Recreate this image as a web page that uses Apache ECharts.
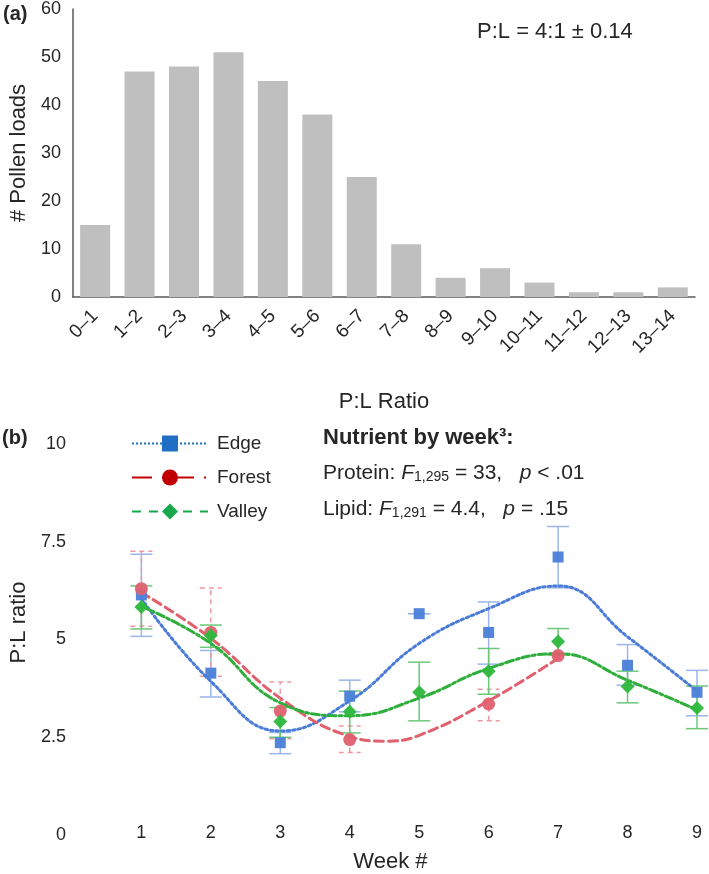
<!DOCTYPE html>
<html><head><meta charset="utf-8">
<script src="https://cdn.jsdelivr.net/npm/echarts@6/dist/echarts.min.js"></script>
<style>html,body{margin:0;padding:0;background:#fff}#c{width:709px;height:874px}</style>
</head><body><div id="c"></div>
<script>
// ---- Panel (a) data ----
const ratioBins = ['0–1','1–2','2–3','3–4','4–5','5–6','6–7','7–8','8–9','9–10','10–11','11–12','12–13','13–14'];
const pollenLoads = [15, 47, 48, 51, 45, 38, 25, 11, 4, 6, 3, 1, 1, 2];
const countAxisMax = 60, countAxisStep = 10;

// ---- Panel (b) data ----
const weeks = [1, 2, 3, 4, 5, 6, 7, 8, 9];
const edgeMean  = [6.14, 4.14, 2.36, 3.55, 5.66, 5.18, 7.11, 4.34, 3.65];
const edgeLow   = [5.08, 3.53, 2.08, 3.15, 5.66, 4.37, 6.32, 3.83, 3.05];
const edgeHigh  = [7.18, 4.72, 2.62, 3.96, 5.66, 5.96, 7.89, 4.87, 4.21];

const forestMean  = [6.30, 5.18, 3.17, 2.44, null, 3.35, 4.59, null, null];
const forestLow   = [5.34, 4.06, 2.46, 2.11, null, 2.92, null, null, null];
const forestHigh  = [7.26, 6.32, 3.91, 2.79, null, 3.73, null, null, null];

const valleyMean  = [5.83, 5.10, 2.90, 3.15, 3.65, 4.19, 4.95, 3.80, 3.25];
const valleyLow   = [5.27, 4.80, 2.50, 2.61, 2.92, 3.60, 4.60, 3.38, 2.72];
const valleyHigh  = [6.37, 5.37, 3.26, 3.68, 4.42, 4.77, 5.28, 4.19, 3.81];

// fitted trend curves at these weeks
const edgeTrendWeeks  = [1, 2, 3, 4, 5, 6, 7, 8, 9];
const edgeTrend       = [6.05, 3.93, 2.66, 3.43, 4.90, 5.79, 6.37, 5.07, 3.68];
const forestTrendWeeks = [1, 2, 3, 4, 4.5, 5, 6, 7];
const forestTrend      = [6.20, 5.03, 3.50, 2.52, 2.40, 2.55, 3.43, 4.52];
const valleyTrendWeeks = [1, 2, 3, 4, 5, 6, 7, 8, 9];
const valleyTrend      = [5.85, 4.90, 3.38, 3.05, 3.50, 4.26, 4.64, 3.96, 3.20];

const weekAxisMin = 0, weekAxisMax = 9, weekAxisStep = 1;
const ratioAxisMin = 0, ratioAxisMax = 10, ratioAxisStep = 2.5;

const FONT = '"Liberation Sans", Arial, sans-serif';
const TXT = '#262626';

function pairs(vals) {
  return weeks.map((w, i) => vals[i] == null ? null : [w, vals[i]]).filter(Boolean);
}
function errData(lo, hi) {
  return weeks.map((w, i) => lo[i] == null ? null : [w, lo[i], hi[i]]).filter(Boolean);
}
function errSeries(name, lo, hi, color, dash) {
  return {
    type: 'custom', name, xAxisIndex: 1, yAxisIndex: 1, z: 1, silent: true,
    encode: { x: 0, y: [1, 2] },
    data: errData(lo, hi),
    renderItem(params, api) {
      const x = api.value(0);
      const a = api.coord([x, api.value(1)]);
      const b = api.coord([x, api.value(2)]);
      const hw = 11;
      const style = { stroke: color, lineWidth: 1.5, lineDash: dash || null, fill: null };
      return { type: 'group', children: [
        { type: 'line', shape: { x1: a[0], y1: a[1], x2: b[0], y2: b[1] }, style },
        { type: 'line', shape: { x1: a[0] - hw, y1: a[1], x2: a[0] + hw, y2: a[1] }, style },
        { type: 'line', shape: { x1: b[0] - hw, y1: b[1], x2: b[0] + hw, y2: b[1] }, style }
      ]};
    }
  };
}
function trendSeries(name, xs, vals, color, dash) {
  return {
    type: 'line', name, xAxisIndex: 1, yAxisIndex: 1, z: 2, silent: true,
    data: xs.map((x, i) => [x, vals[i]]), smooth: 0.45, showSymbol: false, symbol: 'none',
    lineStyle: { color, width: 3, type: dash, cap: 'round' }
  };
}
function pointSeries(name, vals, color, symbol, size, z) {
  return {
    type: 'scatter', name, xAxisIndex: 1, yAxisIndex: 1, z, silent: true,
    data: pairs(vals), symbol, symbolSize: size,
    itemStyle: { color, opacity: 0.95 }
  };
}
function legendSeries(name, color, symbol, dash) {
  return {
    type: 'line', name, xAxisIndex: 1, yAxisIndex: 1, data: [],
    symbol, itemStyle: { color },
    lineStyle: { color, width: 2, type: dash }
  };
}
const richStat = {
  i: { fontStyle: 'italic', fontSize: 21, lineHeight: 24, fontFamily: FONT, fill: TXT },
  s: { fontSize: 14, lineHeight: 15, padding: [9, 0, 0, 0], fontFamily: FONT, fill: TXT }
};

const chart = echarts.init(document.getElementById('c'), null, { renderer: 'canvas' });
chart.setOption({
  animation: false,
  backgroundColor: '#fff',
  textStyle: { fontFamily: FONT },
  grid: [
    { left: 65, top: 9, width: 630, height: 288 },
    { left: 68, top: 444, width: 629, height: 394 }
  ],
  xAxis: [
    {
      gridIndex: 0, type: 'category', data: ratioBins,
      axisLine: { lineStyle: { color: '#595959', width: 1.5 } },
      axisTick: { show: false },
      axisLabel: { rotate: 45, interval: 0, margin: 16, fontSize: 19, color: TXT, fontFamily: FONT },
      name: 'P:L Ratio', nameLocation: 'middle', nameGap: 94,
      nameTextStyle: { fontSize: 22, color: TXT, fontFamily: FONT }
    },
    {
      gridIndex: 1, type: 'value', min: weekAxisMin, max: weekAxisMax, interval: weekAxisStep,
      axisLine: { show: false }, axisTick: { show: false }, splitLine: { show: false },
      axisLabel: { margin: -11, fontSize: 18, color: TXT, fontFamily: FONT, showMinLabel: false },
      name: 'Week #', nameLocation: 'middle', nameGap: 16,
      nameTextStyle: { fontSize: 22, color: TXT, fontFamily: FONT, padding: [0, 0, 0, 12] }
    }
  ],
  yAxis: [
    {
      gridIndex: 0, type: 'value', min: 0, max: countAxisMax, interval: countAxisStep,
      axisLine: { show: true, lineStyle: { color: '#595959', width: 1.5 } },
      axisTick: { show: false }, splitLine: { show: false },
      axisLabel: { margin: 12, fontSize: 18, color: TXT, fontFamily: FONT },
      name: '# Pollen loads', nameLocation: 'middle', nameGap: 37,
      nameTextStyle: { fontSize: 22, color: TXT, fontFamily: FONT }
    },
    {
      gridIndex: 1, type: 'value', min: ratioAxisMin, max: ratioAxisMax, interval: ratioAxisStep,
      axisLine: { show: false }, axisTick: { show: false }, splitLine: { show: false },
      axisLabel: { margin: 6, fontSize: 18, color: TXT, fontFamily: FONT },
      name: 'P:L ratio', nameLocation: 'middle', nameGap: 38,
      nameTextStyle: { fontSize: 22, color: TXT, fontFamily: FONT, padding: [0, 0, 0, 34] }
    }
  ],
  legend: {
    data: ['Edge', 'Forest', 'Valley'],
    orient: 'vertical', left: 126, top: 429,
    itemWidth: 76, itemHeight: 20, itemGap: 15,
    selectedMode: false,
    textStyle: { fontSize: 19, color: TXT, fontFamily: FONT, padding: [0, 0, 0, 4] }
  },
  graphic: [
    { type: 'text', left: 3, top: 4, style: { text: '(a)', font: 'bold 20px ' + FONT, fill: TXT } },
    { type: 'text', left: 477, top: 21, style: { text: 'P:L = 4:1 ± 0.14', font: '22px ' + FONT, fill: TXT } },
    { type: 'text', left: 2, top: 428, style: { text: '(b)', font: 'bold 20px ' + FONT, fill: TXT } },
    { type: 'text', left: 323, top: 427, style: { text: 'Nutrient by week³:', font: 'bold 22px ' + FONT, fill: TXT } },
    { type: 'text', left: 323, top: 461, style: {
      text: 'Protein: {i|F}{s|1,295} = 33,   {i|p} < .01',
      font: '21px ' + FONT, fill: TXT, lineHeight: 24, rich: richStat
    } },
    { type: 'text', left: 323, top: 497, style: {
      text: 'Lipid: {i|F}{s|1,291} = 4.4,   {i|p} = .15',
      font: '21px ' + FONT, fill: TXT, lineHeight: 24, rich: richStat
    } }
  ],
  series: [
    { type: 'bar', xAxisIndex: 0, yAxisIndex: 0, data: pollenLoads, barWidth: 30,
      itemStyle: { color: '#bfbfbf' }, silent: true },

    errSeries('Edge err', edgeLow, edgeHigh, '#9ab6ea'),
    errSeries('Forest err', forestLow, forestHigh, '#eb9aa4', [5, 4]),
    errSeries('Valley err', valleyLow, valleyHigh, '#6cc878'),

    trendSeries('Edge trend', edgeTrendWeeks, edgeTrend, '#4a7bd6', [2.5, 3]),
    trendSeries('Forest trend', forestTrendWeeks, forestTrend, '#e0606e', [9, 5]),
    trendSeries('Valley trend', valleyTrendWeeks, valleyTrend, '#2fae3c', [8, 3, 3, 3]),

    pointSeries('Edge pts', edgeMean, '#4a7fd9', 'rect', 11, 3),
    pointSeries('Forest pts', forestMean, '#e0606e', 'circle', 13, 4),
    pointSeries('Valley pts', valleyMean, '#2db83d', 'diamond', 14, 5),

    legendSeries('Edge', '#1f6fc5', 'rect', [2, 2]),
    legendSeries('Forest', '#c00000', 'circle', [20, 10, 2, 10]),
    legendSeries('Valley', '#16a84a', 'diamond', [9, 8])
  ]
});
</script></body></html>
